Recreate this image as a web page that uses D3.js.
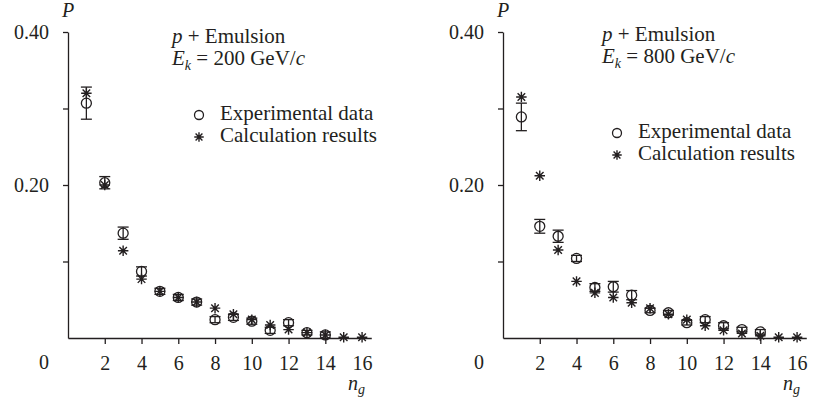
<!DOCTYPE html>
<html>
<head>
<meta charset="utf-8">
<script src="https://cdn.jsdelivr.net/npm/d3@7"></script>
<style>
  body { margin: 0; background: #fff; }
  svg text { font-family: "Liberation Serif", "Times New Roman", Tinos, "DejaVu Serif", serif; fill: #231f20; }
  .axis path, .axis line { stroke: #231f20; stroke-width: 1.3; }
  .axis text { font-size: 20px; }
</style>
</head>
<body>
<svg id="chart" width="814" height="400"></svg>
<script>
// multiplicity n_g
var ng = [1, 2, 3, 4, 5, 6, 7, 8, 9, 10, 11, 12, 13, 14, 15, 16];

// p + Em, 200 GeV/c
var exp200 = [0.307, 0.203, 0.137, 0.087, 0.061, 0.053, 0.047, 0.024, 0.027, 0.022, 0.010, 0.020, 0.007, 0.004];
var err200 = [0.021, 0.008, 0.008, 0.006, 0.004, 0.004, 0.004, 0.004, 0.004, 0.004, 0.004, 0.004, 0.003, 0.004];
var calc200 = [0.320, 0.200, 0.114, 0.077, 0.061, 0.053, 0.047, 0.039, 0.031, 0.024, 0.017, 0.011, 0.007, 0.004, 0.001, 0.001];

// p + Em, 800 GeV/c
var exp800 = [0.289, 0.146, 0.133, 0.104, 0.066, 0.067, 0.056, 0.036, 0.033, 0.020, 0.024, 0.016, 0.011, 0.008];
var err800 = [0.018, 0.009, 0.008, 0.004, 0.005, 0.007, 0.006, 0.003, 0.003, 0.003, 0.004, 0.004, 0.003, 0.003];
var calc800 = [0.315, 0.212, 0.115, 0.074, 0.059, 0.053, 0.046, 0.039, 0.031, 0.024, 0.016, 0.010, 0.006, 0.003, 0.001, 0.001];

var x_ticks = [2, 4, 6, 8, 10, 12, 14, 16];
var y_ticks = [0.1, 0.2, 0.3, 0.4];
var y_labels = [0.2, 0.4];

var ink = "#231f20";
var serif = "'Liberation Serif', 'Times New Roman', Tinos, 'DejaVu Serif', serif";
var svg = d3.select("#chart");

// asterisk marker: four strokes through the centre
var symbolStar = {
  draw: function(ctx, size){
    var r = Math.sqrt(size) / 2, d = r * 0.72;
    ctx.moveTo(-r, 0); ctx.lineTo(r, 0);
    ctx.moveTo(0, -r); ctx.lineTo(0, r);
    ctx.moveTo(-d, -d); ctx.lineTo(d, d);
    ctx.moveTo(-d, d); ctx.lineTo(d, -d);
  }
};

var panels = [
  {left: 68, energy: "200", exp: exp200, err: err200, calc: calc200,
   title_x: 172, title_y: 43, leg_x: 199, leg_y: 115, leg_gap: 22},
  {left: 503, energy: "800", exp: exp800, err: err800, calc: calc800,
   title_x: 602, title_y: 41, leg_x: 617, leg_y: 133, leg_gap: 22}
];

var y = d3.scaleLinear()
    .domain([0, 0.4])
    .range([338, 32]);

panels.forEach(function(p){
  var x = d3.scaleLinear()
      .domain([0, 16.5])
      .range([p.left, p.left + 16.5 * 18.38]);

  var g = svg.append("g");

  // x axis
  var gx = g.append("g")
      .attr("class", "axis")
      .attr("transform", "translate(0," + y(0) + ")")
      .call(d3.axisBottom(x)
        .tickValues(x_ticks)
        .tickSize(6)
        .tickPadding(12)
        .tickSizeOuter(0));
  gx.selectAll(".tick line").filter(function(d){ return d == 16; }).remove();

  // y axis
  g.append("g")
      .attr("class", "axis")
      .attr("transform", "translate(" + p.left + ",0)")
      .call(d3.axisLeft(y)
        .tickValues(y_ticks)
        .tickSize(5)
        .tickPadding(14)
        .tickSizeOuter(0)
        .tickFormat(function(d){ return y_labels.indexOf(d) > -1 ? d.toFixed(2) : ""; }));

  g.selectAll(".axis").attr("font-family", serif);

  // origin label
  g.append("text")
      .attr("x", p.left - 24)
      .attr("y", 369)
      .attr("text-anchor", "middle")
      .style("font-size", "20px")
      .text("0");

  // axis titles
  g.append("text")
      .attr("x", p.left - 6)
      .attr("y", 17)
      .style("font-size", "20px")
      .style("font-style", "italic")
      .text("P");

  var nt = g.append("text")
      .attr("x", x(16) - 14)
      .attr("y", 390)
      .style("font-size", "20px")
      .style("font-style", "italic");
  nt.append("tspan").text("n");
  nt.append("tspan").attr("dy", 4).style("font-size", "14px").text("g");

  // title
  var t1 = g.append("text")
      .attr("x", p.title_x)
      .attr("y", p.title_y)
      .style("font-size", "21px");
  t1.append("tspan").style("font-style", "italic").text("p");
  t1.append("tspan").text(" + Emulsion");

  var t2 = g.append("text")
      .attr("x", p.title_x)
      .attr("y", p.title_y + 22)
      .style("font-size", "21px");
  t2.append("tspan").style("font-style", "italic").text("E");
  t2.append("tspan").attr("dy", 5).style("font-size", "14px").style("font-style", "italic").text("k");
  t2.append("tspan").attr("dy", -5).text(" = " + p.energy + " GeV/");
  t2.append("tspan").style("font-style", "italic").text("c");

  // error bars
  var eb = g.selectAll(".err")
      .data(p.exp)
    .enter().append("g")
      .attr("class", "err")
      .attr("stroke", ink)
      .attr("stroke-width", 1.3);
  eb.append("line")
      .attr("x1", function(d, i){ return x(ng[i]); })
      .attr("x2", function(d, i){ return x(ng[i]); })
      .attr("y1", function(d, i){ return y(d + p.err[i]); })
      .attr("y2", function(d, i){ return y(d - p.err[i]); });
  eb.append("line")
      .attr("x1", function(d, i){ return x(ng[i]) - 5.5; })
      .attr("x2", function(d, i){ return x(ng[i]) + 5.5; })
      .attr("y1", function(d, i){ return y(d + p.err[i]); })
      .attr("y2", function(d, i){ return y(d + p.err[i]); });
  eb.append("line")
      .attr("x1", function(d, i){ return x(ng[i]) - 5.5; })
      .attr("x2", function(d, i){ return x(ng[i]) + 5.5; })
      .attr("y1", function(d, i){ return y(d - p.err[i]); })
      .attr("y2", function(d, i){ return y(d - p.err[i]); });

  // experimental points
  g.selectAll(".exp")
      .data(p.exp)
    .enter().append("circle")
      .attr("class", "exp")
      .attr("cx", function(d, i){ return x(ng[i]); })
      .attr("cy", function(d){ return y(d); })
      .attr("r", 5)
      .attr("fill", "none")
      .attr("stroke", ink)
      .attr("stroke-width", 1.3);

  // calculation points
  g.selectAll(".calc")
      .data(p.calc)
    .enter().append("path")
      .attr("class", "calc")
      .attr("transform", function(d, i){ return "translate(" + x(ng[i]) + "," + y(d) + ")"; })
      .attr("d", d3.symbol().type(symbolStar).size(110))
      .attr("fill", "none")
      .attr("stroke", ink)
      .attr("stroke-width", 1.4);

  // legend
  g.append("circle")
      .attr("cx", p.leg_x)
      .attr("cy", p.leg_y)
      .attr("r", 4.5)
      .attr("fill", "none")
      .attr("stroke", ink)
      .attr("stroke-width", 1.3);
  g.append("path")
      .attr("transform", "translate(" + p.leg_x + "," + (p.leg_y + p.leg_gap) + ")")
      .attr("d", d3.symbol().type(symbolStar).size(90))
      .attr("fill", "none")
      .attr("stroke", ink)
      .attr("stroke-width", 1.4);
  g.append("text")
      .attr("x", p.leg_x + 21)
      .attr("y", p.leg_y + 5)
      .style("font-size", "21px")
      .text("Experimental data");
  g.append("text")
      .attr("x", p.leg_x + 21)
      .attr("y", p.leg_y + p.leg_gap + 5)
      .style("font-size", "21px")
      .text("Calculation results");

  g.selectAll("text").attr("font-family", serif).style("font-family", serif);
});
</script>
</body>
</html>
